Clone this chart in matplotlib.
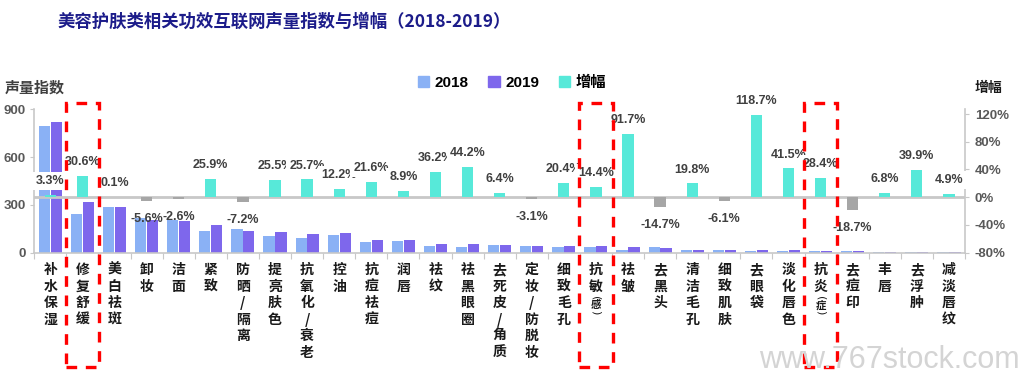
import matplotlib
matplotlib.use("Agg")
import matplotlib.pyplot as plt
import numpy as np
from matplotlib.patches import Rectangle, Patch
import matplotlib.transforms as mtransforms

categories = ["补水保湿", "修复舒缓", "美白祛斑", "卸妆", "洁面", "紧致", "防晒/隔离",
              "提亮肤色", "抗氧化/衰老", "控油", "抗痘祛痘", "润唇", "祛纹", "祛黑眼圈",
              "去死皮/角质", "定妆/防脱妆", "细致毛孔", "抗敏(感)", "祛皱", "去黑头",
              "清洁毛孔", "细致肌肤", "去眼袋", "淡化唇色", "抗炎(症)", "去痘印", "丰唇",
              "去浮肿", "减淡唇纹"]
vol_2018 = [795, 245, 289, 217, 204, 136, 149, 104, 95, 111, 67, 73, 41, 36, 48,
            42, 36, 36, 19, 34, 16, 18, 8, 10, 8, 12, 5, 4, 4]
vol_2019 = [821, 320, 289, 205, 199, 172, 138, 130, 119, 124, 81, 79, 56, 52, 51,
            41, 43, 41, 37, 29, 19, 17, 17, 14, 10, 10, 5.3, 5.6, 4.2]
growth = [3.3, 30.6, 0.1, -5.6, -2.6, 25.9, -7.2, 25.5, 25.7, 12.2, 21.6, 8.9, 36.2,
          44.2, 6.4, -3.1, 20.4, 14.4, 91.7, -14.7, 19.8, -6.1, 118.7, 41.5, 28.4,
          -18.7, 6.8, 39.9, 4.9]
highlight = ["修复舒缓", "抗敏(感)", "抗炎(症)"]
left_ticks = [0, 300, 600, 900]
right_ticks = [-80, -40, 0, 40, 80, 120]

title = "美容护肤类相关功效互联网声量指数与增幅（2018-2019）"

C2018 = "#8AB1F5"
C2019 = "#7E67EC"
CPOS = "#57E9D9"
CNEG = "#A6A6A6"
AXC = "#C8C8C8"
TXT = "#404040"
CJK = ["Noto Sans CJK SC", "DejaVu Sans"]
LAT = ["Liberation Sans", "Noto Sans CJK SC", "DejaVu Sans"]

fig = plt.figure(figsize=(10.27, 3.88), dpi=100)
ax = fig.add_axes([34.3 / 1027, 1 - 252.7 / 388, (965 - 34.3) / 1027, (252.7 - 109.3) / 388])
n = len(categories)
x = np.arange(n)

ax.bar(x - 0.185, vol_2018, 0.35, color=C2018, zorder=2)
ax.bar(x + 0.185, vol_2019, 0.35, color=C2019, zorder=2)
ax.set_xlim(-0.5, n - 0.5)
ax.set_ylim(0, 900)
ax.set_yticks(left_ticks)
ax.set_xticks(np.arange(n + 1) - 0.5)
ax.set_xticklabels([])
for s in ["top", "right"]:
    ax.spines[s].set_visible(False)
for s in ["left", "bottom"]:
    ax.spines[s].set_color(AXC)
    ax.spines[s].set_linewidth(1.2)
ax.tick_params(axis="y", length=3, color=AXC, pad=3, labelsize=9.5, labelcolor="#595959")
ax.tick_params(axis="x", length=4, color=AXC)
for t in ax.get_yticklabels():
    t.set_fontweight("bold")
    t.set_family(LAT)

ax2 = ax.twinx()
ax2.set_ylim(-80, 126.8)
ax2.set_yticks(right_ticks)
ax2.set_yticklabels([f"{v}%" for v in right_ticks])
for s in ["top", "left", "bottom"]:
    ax2.spines[s].set_visible(False)
ax2.spines["right"].set_color(AXC)
ax2.spines["right"].set_linewidth(1.2)
ax2.tick_params(axis="y", length=3, color=AXC, pad=4, labelsize=9.5, labelcolor="#595959")
for t in ax2.get_yticklabels():
    t.set_fontweight("bold")
    t.set_family(LAT)
ax2.axhline(0, color=AXC, lw=2, zorder=1)
gcols = [CPOS if g >= 0 else CNEG for g in growth]
ax2.bar(x, growth, 0.35, color=gcols, zorder=2)

for xi, g in zip(x, growth):
    if g >= 0:
        ax2.annotate(f"{g:.1f}%", (xi, g), xytext=(0, 10), textcoords="offset points",
                     ha="center", va="center", fontsize=9, fontweight="bold", color=TXT,
                     family=LAT, zorder=5,
                     bbox=dict(boxstyle="square,pad=0.25", fc="white", ec="none"))
    else:
        ax2.annotate(f"{g:.1f}%", (xi, g), xytext=(0, -12.6), textcoords="offset points",
                     ha="center", va="center", fontsize=9, fontweight="bold", color=TXT,
                     family=LAT, zorder=5)

# category labels, vertical stacked characters
pitch = 11.9
for xi, lab in zip(x, categories):
    lines = []
    i = 0
    while i < len(lab):
        if lab[i] == "(":
            lines.append(("paren", lab[i + 1]))
            i += 3
        else:
            lines.append(("char", lab[i]))
            i += 1
    for k, (kind, ch) in enumerate(lines):
        yoff = -7.4 - k * pitch
        if kind == "char":
            ax.annotate(ch, (xi, 0), xycoords=("data", "axes fraction"),
                        xytext=(0, yoff), textcoords="offset points", ha="center",
                        va="top", fontsize=10, fontweight="bold", color="#1a1a1a",
                        family=CJK, annotation_clip=False)
        else:
            ax.annotate(ch, (xi, 0), xycoords=("data", "axes fraction"),
                        xytext=(0, yoff - 6.5), textcoords="offset points", ha="center",
                        va="center", fontsize=7.5, fontweight="bold", color="#1a1a1a",
                        family=CJK, annotation_clip=False)
            ax.annotate("(", (xi, 0), xycoords=("data", "axes fraction"),
                        xytext=(0, yoff - 1.3), textcoords="offset points", ha="center",
                        va="center", rotation=-90, fontsize=8,
                        color="#1a1a1a", family=["DejaVu Sans"], annotation_clip=False)
            ax.annotate(")", (xi, 0), xycoords=("data", "axes fraction"),
                        xytext=(0, yoff - 11.7), textcoords="offset points", ha="center",
                        va="center", rotation=-90, fontsize=8,
                        color="#1a1a1a", family=["DejaVu Sans"], annotation_clip=False)

# red dashed highlight boxes
trans = mtransforms.blended_transform_factory(ax2.transData, ax2.transAxes)
for name in highlight:
    i = categories.index(name)
    r = Rectangle((i - 0.52, -0.795), 1.04, 1.042 + 0.795, transform=trans,
                  fill=False, ec="#FF0000", lw=2.4, ls=(0, (3.2, 2.6)), clip_on=False,
                  zorder=10)
    ax2.add_patch(r)

fig.text(57 / 1027, 1 - 21.7 / 388, title, color="#1C1C8A", fontsize=12.5,
         fontweight="bold", family=CJK, va="center", ha="left")
fig.text(5 / 1027, 1 - 88 / 388, "声量指数", color=TXT, fontsize=10.8,
         fontweight="bold", family=CJK, va="center", ha="left")
fig.text(975 / 1027, 1 - 88 / 388, "增幅", color="#1a1a1a", fontsize=10,
         fontweight="bold", family=CJK, va="center", ha="left")

handles = [Patch(color=C2018), Patch(color=C2019), Patch(color=CPOS)]
fig.legend(handles, ["2018", "2019", "增幅"], ncol=3, frameon=False, loc="center",
           bbox_to_anchor=(512 / 1027, 1 - 82.7 / 388), handlelength=0.75,
           handleheight=0.75, handletextpad=0.35, columnspacing=1.3,
           prop=dict(family=LAT, weight="bold", size=11))

fig.text(1020 / 1027, 1 - 360 / 388, "www.767stock.com", color="#D4D4D4", fontsize=22,
         family=LAT, va="center", ha="right")

fig.savefig("out.png", dpi=100)
